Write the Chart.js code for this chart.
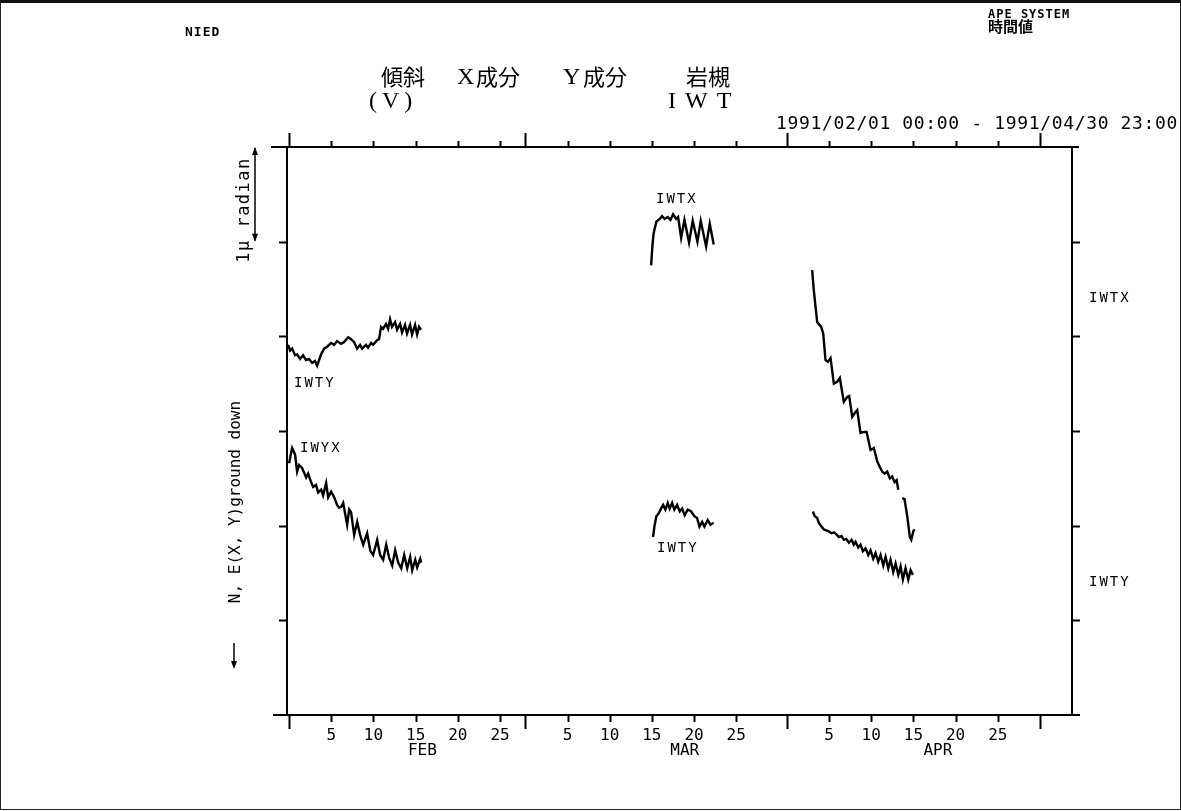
<!DOCTYPE html>
<html>
<head>
<meta charset="utf-8">
<script src="https://cdn.jsdelivr.net/npm/chart.js@4.4.1/dist/chart.umd.min.js"></script>
<style>
  body { margin: 0; background: #fff; }
  #wrap { position: relative; width: 1181px; height: 811px; overflow: hidden; background: #fff; }
  #frame { position: absolute; left: 0; top: 0; width: 1179px; height: 806px; border: 1px solid #222; border-top: 3px solid #111; }
  canvas { position: absolute; left: 0; top: 0; }
  .t { position: absolute; white-space: nowrap; color: #000; font-family: "DejaVu Sans Mono", monospace; }
  .small { font-size: 13px; font-weight: bold; letter-spacing: 1px; }
  .lab { font-size: 14px; letter-spacing: 2px; }
  .ttl { font-family: "Liberation Serif", "Noto Sans CJK JP", serif; font-size: 24px; line-height: 1; }
  .kj { font-family: "Noto Sans CJK JP", sans-serif; font-size: 22px; line-height: 1; }
  .rot { transform: translate(-50%, -50%) rotate(-90deg); font-size: 16px; }
</style>
</head>
<body>
<div id="wrap">
  <div id="frame"></div>
  <canvas id="tiltChart" width="1181" height="811"></canvas>

  <div class="t small" style="left:185px; top:24px;">NIED</div>
  <div class="t small" style="left:988px; top:7px; font-size:12px;">APE SYSTEM</div>
  <div class="t kj" style="left:988px; top:18px; font-size:15px; font-weight:bold;">時間値</div>

  <div class="t kj" style="left:381px; top:64px;">傾斜</div>
  <div class="t ttl" style="left:457px; top:64px;">X</div>
  <div class="t kj" style="left:476px; top:64px;">成分</div>
  <div class="t ttl" style="left:563px; top:64px;">Y</div>
  <div class="t kj" style="left:583px; top:64px;">成分</div>
  <div class="t kj" style="left:686px; top:64px;">岩槻</div>
  <div class="t ttl" style="left:369px; top:88px; letter-spacing:5px;">(V)</div>
  <div class="t ttl" style="left:668px; top:88px; letter-spacing:9px;">IWT</div>

  <div class="t" style="left:776px; top:112px; font-size:18px; letter-spacing:0.65px;">1991/02/01 00:00 - 1991/04/30 23:00</div>

  <div class="t rot" style="left:243px; top:210px; font-size:17px; letter-spacing:1.5px;">1µ radian</div>
  <div class="t rot" style="left:234px; top:502px;">N, E(X, Y)ground down</div>

  <div class="t lab" style="left:294px; top:374px;">IWTY</div>
  <div class="t lab" style="left:300px; top:439px;">IWYX</div>
  <div class="t lab" style="left:656px; top:190px;">IWTX</div>
  <div class="t lab" style="left:657px; top:539px;">IWTY</div>
  <div class="t lab" style="left:1089px; top:289px;">IWTX</div>
  <div class="t lab" style="left:1089px; top:573px;">IWTY</div>
</div>

<script>
// x = days after the Feb "0" tick, y = tilt in micro radian (arbitrary offset)
const tickDays = [5, 10, 15, 20, 25, 33, 38, 43, 48, 53, 64, 69, 74, 79, 84];
const tickLabels = ['5', '10', '15', '20', '25', '5', '10', '15', '20', '25', '5', '10', '15', '20', '25'];
const monthDays = [0, 28, 59, 89];
const monthNames = ['FEB', 'MAR', 'APR'];
const monthLabelDays = [15.8, 46.9, 76.9];
const yTicks = [1, 2, 3, 4, 5];

const iwtyFeb = [[-0.12,3.91],[0.12,3.85],[0.36,3.87],[0.71,3.80],[0.95,3.81],[1.30,3.76],[1.66,3.80],[2.01,3.75],[2.37,3.76],[2.73,3.72],
  [3.08,3.74],[3.32,3.69],[3.79,3.81],[4.15,3.87],[4.50,3.89],[4.98,3.93],[5.33,3.91],[5.69,3.95],[6.16,3.92],[6.52,3.94],
  [6.99,3.99],[7.35,3.97],[7.70,3.94],[8.06,3.87],[8.41,3.91],[8.65,3.87],[9.12,3.91],[9.36,3.88],[9.72,3.93],[9.95,3.91],
  [10.43,3.96],[10.66,3.97],[10.90,4.10],[11.14,4.08],[11.49,4.13],[11.73,4.08],[11.97,4.18],[12.20,4.10],[12.56,4.15],[12.80,4.07],
  [13.15,4.13],[13.39,4.04],[13.74,4.12],[13.98,4.03],[14.34,4.12],[14.57,4.02],[14.93,4.12],[15.17,4.02],[15.40,4.10],[15.64,4.07]];

const iwtxFeb = [[0,2.66],[0.24,2.77],[0.36,2.82],[0.71,2.75],[0.95,2.57],[1.19,2.64],[1.54,2.61],[2.02,2.51],[2.25,2.55],[2.61,2.46],
  [2.85,2.41],[3.20,2.43],[3.44,2.35],[3.80,2.38],[4.03,2.32],[4.39,2.45],[4.63,2.30],[4.98,2.36],[5.34,2.30],[5.69,2.22],
  [5.93,2.19],[6.17,2.20],[6.41,2.24],[6.88,2.01],[7.12,2.17],[7.35,2.14],[7.71,1.90],[8.07,2.04],[8.42,1.90],[8.78,1.80],
  [9.25,1.92],[9.61,1.74],[9.96,1.69],[10.44,1.85],[10.79,1.69],[11.15,1.64],[11.51,1.80],[11.86,1.66],[12.22,1.58],[12.57,1.74],
  [12.93,1.61],[13.29,1.55],[13.64,1.69],[14.00,1.55],[14.35,1.67],[14.59,1.53],[14.95,1.64],[15.18,1.56],[15.54,1.65],[15.66,1.61]];

const iwtxMar = [[42.91,4.75],[43.06,4.95],[43.21,5.09],[43.53,5.21],[43.93,5.24],[44.21,5.27],[44.52,5.24],[44.88,5.26],[45.20,5.23],
  [45.52,5.29],[45.87,5.24],[46.11,5.26],[46.47,5.04],[46.86,5.23],[47.41,4.99],[47.84,5.22],[48.40,5.00],[48.79,5.22],
  [49.43,4.95],[49.86,5.19],[50.33,4.97]];

const iwtyMar = [[43.14,1.88],[43.30,1.99],[43.53,2.10],[43.81,2.13],[44.09,2.18],[44.33,2.22],[44.60,2.17],[44.88,2.24],[45.11,2.18],
  [45.40,2.24],[45.67,2.17],[45.99,2.22],[46.30,2.15],[46.58,2.18],[46.89,2.11],[47.25,2.17],[47.65,2.15],[48.04,2.10],
  [48.36,2.08],[48.64,1.99],[48.96,2.04],[49.23,1.99],[49.62,2.06],[49.94,2.01],[50.33,2.03]];

const iwtxApr = [[62.00,4.70],[62.19,4.49],[62.40,4.31],[62.60,4.15],[63.07,4.10],[63.31,4.03],[63.58,3.75],[63.86,3.73],[64.18,3.77],
  [64.57,3.50],[64.97,3.52],[65.28,3.56],[65.75,3.31],[66.16,3.36],[66.39,3.37],[66.75,3.15],[67.06,3.19],[67.34,3.22],
  [67.73,2.98],[68.13,2.99],[68.45,2.99],[68.92,2.80],[69.31,2.82],[69.71,2.68],[70.02,2.62],[70.31,2.57],[70.58,2.55],
  [70.90,2.57],[71.21,2.50],[71.49,2.52],[71.77,2.46],[72.01,2.48],[72.21,2.38],[72.45,null],
  [72.68,2.29],[72.95,2.28],[73.27,2.10],[73.58,1.88],[73.75,1.85],[73.99,1.94],[74.14,1.96]];

const iwtyApr = [[62.08,2.15],[62.31,2.10],[62.60,2.08],[62.79,2.03],[63.11,1.99],[63.38,1.96],[63.67,1.95],[63.97,1.94],[64.29,1.92],
  [64.57,1.93],[64.85,1.91],[65.16,1.88],[65.48,1.89],[65.75,1.85],[66.04,1.86],[66.35,1.82],[66.67,1.85],[66.94,1.80],
  [67.14,1.83],[67.46,1.77],[67.73,1.80],[68.01,1.73],[68.33,1.76],[68.65,1.69],[68.92,1.74],[69.24,1.65],[69.51,1.71],
  [69.83,1.62],[70.11,1.69],[70.43,1.58],[70.70,1.67],[71.02,1.55],[71.29,1.64],[71.61,1.51],[71.89,1.60],[72.21,1.48],
  [72.48,1.57],[72.75,1.43],[73.07,1.55],[73.39,1.43],[73.67,1.53],[73.94,1.48]];

const series = [iwtyFeb, iwtxFeb, iwtxMar, iwtyMar, iwtxApr, iwtyApr];

const plotterFrame = {
  id: 'plotterFrame',
  afterDraw(chart) {
    const c = chart.ctx, a = chart.chartArea;
    const xs = chart.scales.x, ys = chart.scales.y;
    c.save();
    c.strokeStyle = '#000';
    c.lineWidth = 2;
    c.beginPath();
    // box, with the top and bottom lines running a little past the sides
    c.moveTo(a.left - 16, a.top); c.lineTo(a.right + 7, a.top);
    c.moveTo(a.left - 14, a.bottom); c.lineTo(a.right + 8, a.bottom);
    c.moveTo(a.left, a.top); c.lineTo(a.left, a.bottom);
    c.moveTo(a.right, a.top); c.lineTo(a.right, a.bottom);
    // 5 day ticks, longer at month boundaries
    const all = tickDays.concat(monthDays);
    all.forEach(d => {
      const px = Math.round(xs.getPixelForValue(d)) + 0.5;
      const long = monthDays.includes(d);
      c.moveTo(px, a.top); c.lineTo(px, a.top - (long ? 14 : 6));
      c.moveTo(px, a.bottom); c.lineTo(px, a.bottom + (long ? 14 : 7));
    });
    yTicks.forEach(v => {
      const py = Math.round(ys.getPixelForValue(v)) + 0.5;
      c.moveTo(a.left, py); c.lineTo(a.left - 8, py);
      c.moveTo(a.right, py); c.lineTo(a.right + 8, py);
    });
    c.stroke();

    // 1 micro radian scale bar
    const bx = 255, y0 = ys.getPixelForValue(6), y1 = ys.getPixelForValue(5);
    c.lineWidth = 1.5;
    c.beginPath();
    c.moveTo(bx, y0 + 1); c.lineTo(bx, y1 - 1);
    c.stroke();
    c.fillStyle = '#000';
    c.beginPath();
    c.moveTo(bx, y0); c.lineTo(bx - 3, y0 + 8); c.lineTo(bx + 3, y0 + 8); c.closePath();
    c.moveTo(bx, y1); c.lineTo(bx - 3, y1 - 8); c.lineTo(bx + 3, y1 - 8); c.closePath();
    c.fill();
    // down arrow for "ground down"
    c.beginPath();
    c.moveTo(234, 643); c.lineTo(234, 664);
    c.stroke();
    c.beginPath();
    c.moveTo(234, 669); c.lineTo(231, 661); c.lineTo(237, 661); c.closePath();
    c.fill();

    // month names
    c.font = '16px "DejaVu Sans Mono"';
    c.textAlign = 'center';
    c.textBaseline = 'middle';
    monthLabelDays.forEach((d, i) => {
      c.fillText(monthNames[i], xs.getPixelForValue(d), a.bottom + 36);
    });
    c.restore();
  }
};

const ctx = document.getElementById('tiltChart').getContext('2d');
const tiltChart = new Chart(ctx, {
  type: 'line',
  data: {
    datasets: series.map(s => ({
      data: s.map(p => ({ x: p[0], y: p[1] })),
      borderColor: '#000',
      borderWidth: 2.4,
      pointRadius: 0,
      tension: 0,
      spanGaps: false
    }))
  },
  options: {
    responsive: false,
    animation: false,
    devicePixelRatio: 1,
    layout: { padding: { left: 287, right: 109, top: 147, bottom: 0 } },
    plugins: { legend: { display: false }, tooltip: { enabled: false } },
    scales: {
      x: {
        type: 'linear',
        min: -0.25,
        max: 92.8,
        grid: { display: false, drawTicks: false },
        border: { display: false },
        afterBuildTicks: scale => { scale.ticks = tickDays.map(v => ({ value: v })); },
        afterFit: scale => { scale.height = 96; },
        ticks: {
          autoSkip: false,
          maxRotation: 0,
          padding: 11,
          color: '#000',
          font: { family: 'DejaVu Sans Mono', size: 16 },
          callback: (v, i) => tickLabels[i]
        }
      },
      y: {
        min: 0,
        max: 6,
        grid: { display: false, drawTicks: false },
        border: { display: false },
        ticks: { display: false },
        afterFit: scale => { scale.width = 0; }
      }
    }
  },
  plugins: [plotterFrame]
});
</script>
</body>
</html>
